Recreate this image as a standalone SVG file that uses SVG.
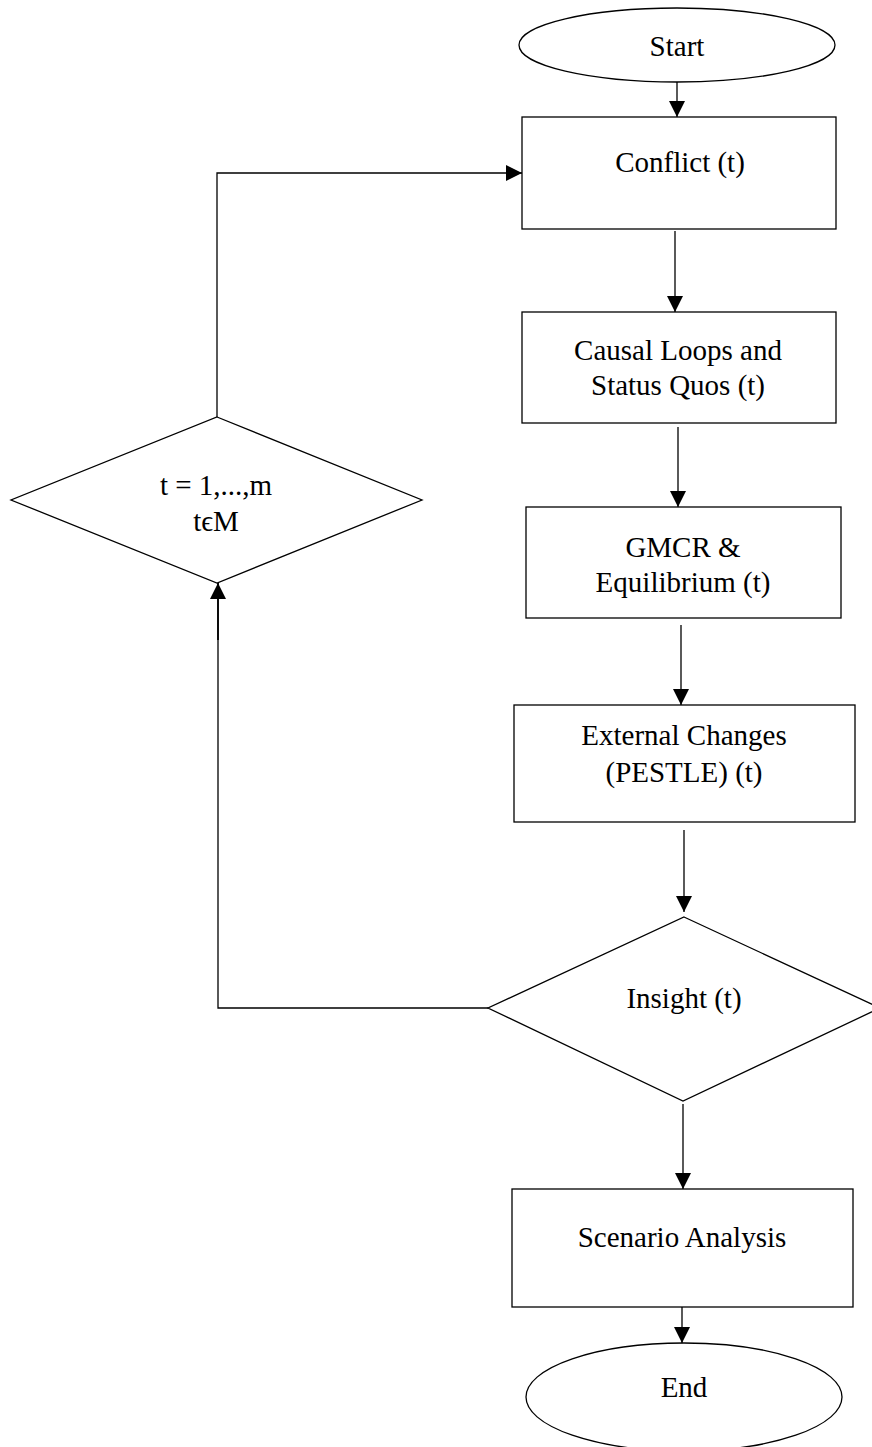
<svg xmlns="http://www.w3.org/2000/svg" width="872" height="1447" viewBox="0 0 872 1447">
  <style>
    .shape { fill: #ffffff; stroke: #000000; stroke-width: 1.3; }
    .wire { fill: none; stroke: #000000; stroke-width: 1.3; }
    .wire-heavy { fill: none; stroke: #000000; stroke-width: 1.9; }
    .label { font-family: "Liberation Serif", "Times New Roman", serif; font-size: 29px; fill: #000000; text-anchor: middle; }
  </style>
  <defs>
    <marker id="arrow" viewBox="0 0 16 16" refX="16" refY="8" markerWidth="16" markerHeight="16" markerUnits="userSpaceOnUse" orient="auto">
      <path d="M0,0 L16,8 L0,16 Z" fill="#000000"/>
    </marker>
  </defs>

  <rect width="872" height="1447" fill="#ffffff"/>

  <!-- connectors -->
  <g id="connectors">
    <line class="wire" x1="677" y1="82" x2="677" y2="117" marker-end="url(#arrow)"/>
    <line class="wire" x1="675" y1="231" x2="675" y2="312" marker-end="url(#arrow)"/>
    <line class="wire" x1="678" y1="427" x2="678" y2="507" marker-end="url(#arrow)"/>
    <line class="wire" x1="681" y1="625" x2="681" y2="705" marker-end="url(#arrow)"/>
    <line class="wire" x1="684" y1="830" x2="684" y2="912" marker-end="url(#arrow)"/>
    <line class="wire" x1="683" y1="1104" x2="683" y2="1189" marker-end="url(#arrow)"/>
    <line class="wire" x1="682" y1="1307" x2="682" y2="1343" marker-end="url(#arrow)"/>
    <!-- feedback loop: insight back to the period selector -->
    <polyline class="wire" points="488,1008 218,1008 218,640"/>
    <line class="wire-heavy" x1="218" y1="640" x2="218" y2="583" marker-end="url(#arrow)"/>
    <!-- period selector back to conflict -->
    <polyline class="wire" points="217,417 217,173 522,173" marker-end="url(#arrow)"/>
  </g>

  <g id="start">
    <ellipse class="shape" cx="677" cy="45" rx="158" ry="37"/>
    <text class="label" x="677" y="56">Start</text>
  </g>

  <g id="conflict">
    <rect class="shape" x="522" y="117" width="314" height="112"/>
    <text class="label" x="680" y="172">Conflict (t)</text>
  </g>

  <g id="causal-loops">
    <rect class="shape" x="522" y="312" width="314" height="111"/>
    <text class="label" x="678" y="360">Causal Loops and</text>
    <text class="label" x="678" y="395">Status Quos (t)</text>
  </g>

  <g id="gmcr">
    <rect class="shape" x="526" y="507" width="315" height="111"/>
    <text class="label" x="683" y="557">GMCR &amp;</text>
    <text class="label" x="683" y="592">Equilibrium (t)</text>
  </g>

  <g id="external-changes">
    <rect class="shape" x="514" y="705" width="341" height="117"/>
    <text class="label" x="684" y="745">External Changes</text>
    <text class="label" x="684" y="782">(PESTLE) (t)</text>
  </g>

  <g id="insight">
    <polygon class="shape" points="684,917 880,1008 683,1101 488,1008"/>
    <text class="label" x="684" y="1008">Insight (t)</text>
  </g>

  <g id="period">
    <polygon class="shape" points="217,417 422,500 217,583 11,500"/>
    <text class="label" x="216" y="495">t = 1,...,m</text>
    <text class="label" x="216" y="531">tϵM</text>
  </g>

  <g id="scenario-analysis">
    <rect class="shape" x="512" y="1189" width="341" height="118"/>
    <text class="label" x="682" y="1247">Scenario Analysis</text>
  </g>

  <g id="end">
    <ellipse class="shape" cx="684" cy="1397" rx="158" ry="54"/>
    <text class="label" x="684" y="1397">End</text>
  </g>
</svg>
